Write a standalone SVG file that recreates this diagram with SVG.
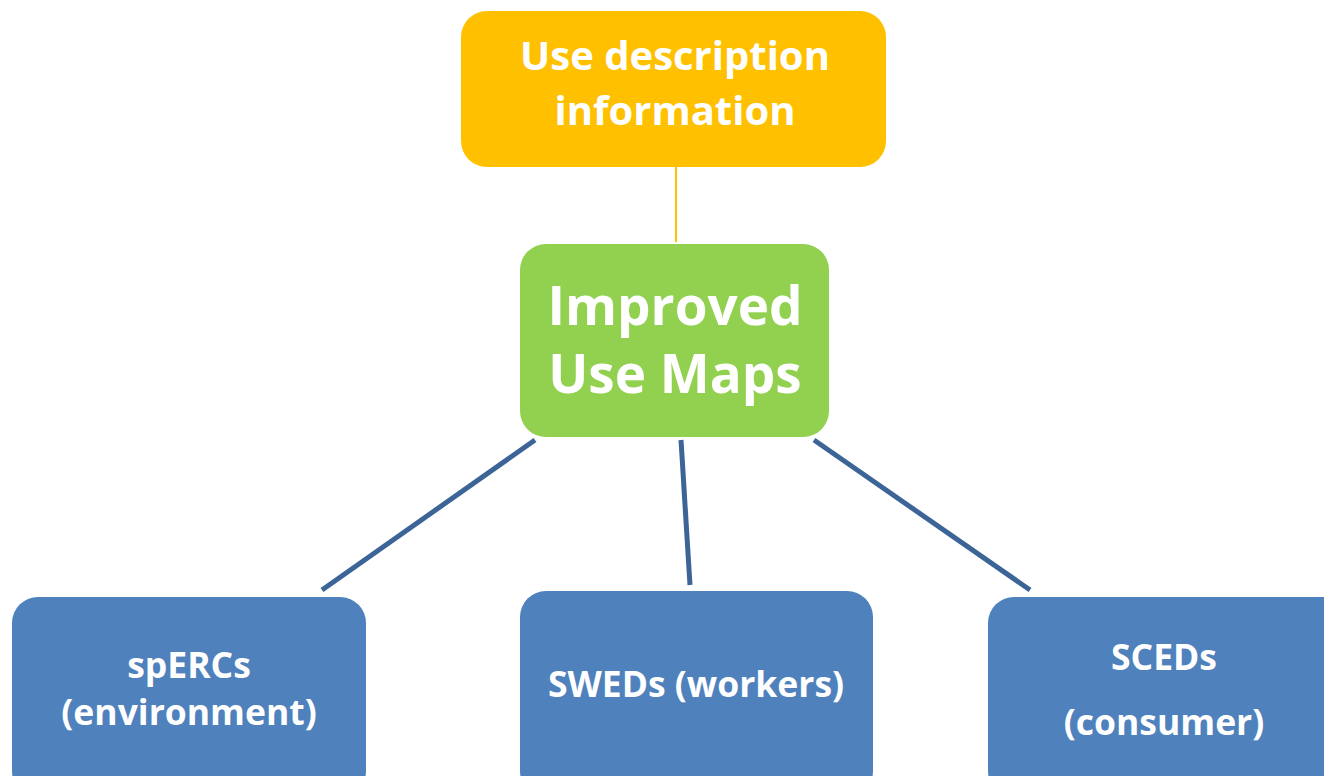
<svg xmlns="http://www.w3.org/2000/svg" width="1324" height="776" viewBox="0 0 1324 776">
<style>
text{font-family:"Open Sans","Liberation Sans",sans-serif;font-weight:bold;fill:#fff;text-anchor:middle}
.blue{fill:#4F81BD}
.conn{stroke:#3C6496;stroke-width:5;fill:none}
.b{font-size:35.5px}
</style>
<rect width="1324" height="776" fill="#fff"/>
<g id="connectors">
<line x1="676" y1="167" x2="676" y2="242" stroke="#FFC000" stroke-width="2"/>
<line class="conn" x1="535" y1="440" x2="322" y2="590"/>
<line class="conn" x1="681" y1="440" x2="690" y2="585"/>
<line class="conn" x1="814" y1="440" x2="1030" y2="590"/>
</g>
<g id="use-description">
<rect x="461" y="11" width="425" height="156" rx="26" fill="#FFC000"/>
<text x="675" y="70" font-size="40">Use description</text>
<text x="675" y="125" font-size="40">information</text>
</g>
<g id="improved-use-maps">
<rect x="520" y="244" width="309" height="193" rx="26" fill="#92D050"/>
<text x="675" y="325" font-size="53">Improved</text>
<text x="675" y="393" font-size="53">Use Maps</text>
</g>
<g id="spercs">
<rect class="blue" x="12" y="597" width="354" height="200" rx="26"/>
<text class="b" x="189" y="678">spERCs</text>
<text class="b" x="189" y="725">(environment)</text>
</g>
<g id="sweds">
<rect class="blue" x="520" y="591" width="353" height="206" rx="26"/>
<text class="b" x="696" y="697">SWEDs (workers)</text>
</g>
<g id="sceds">
<rect class="blue" x="988" y="597" width="360" height="200" rx="26"/>
<text class="b" x="1164" y="670">SCEDs</text>
<text class="b" x="1164" y="735">(consumer)</text>
</g>
</svg>
